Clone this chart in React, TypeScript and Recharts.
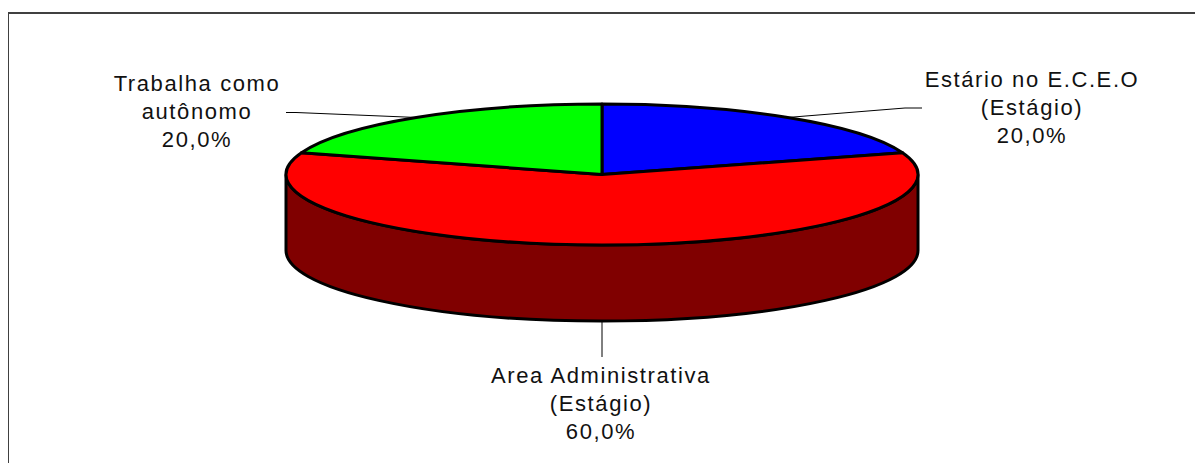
import { PieChart, Pie } from "recharts";

const CATEGORIES = ["Estário no E.C.E.O", "Area Administrativa", "Trabalha como autônomo"];
const VALUES = [20, 60, 20];
const TOP_COLORS = ["#0000ff", "#ff0000", "#00ff00"];
const SIDE_COLOR = "#800000";
const LABEL_LINES = [
  ["Estário no E.C.E.O", "(Estágio)", "20,0%"],
  ["Area Administrativa", "(Estágio)", "60,0%"],
  ["Trabalha como", "autônomo", "20,0%"],
];

const data = CATEGORIES.map((name, i) => ({
  name,
  value: VALUES[i],
  fill: TOP_COLORS[i],
}));

// fake 3d: the pie is squashed to an ellipse and gets a wall below it
const CX = 602;
const CY = 174.5;
const RX = 316;
const RY = 70.5;
const DEPTH = 76;
const OUTLINE = 3;

const LINE_HEIGHT = 28;
const labelPos = [
  { x: 1032, y: 87, leader: [[922, 108], [905, 108]] },
  { x: 601, y: 383, leader: [[602, 357]] },
  { x: 197, y: 91, leader: [[286, 112.5], [296, 112.5]] },
];

const pt = (a: number, dy = 0) => {
  const rad = (a * Math.PI) / 180;
  return [CX + RX * Math.cos(rad), CY - RY * Math.sin(rad) + dy];
};

function Slice(props: any) {
  const { startAngle, endAngle, fill } = props;
  const [sx, sy] = pt(startAngle);
  const [ex, ey] = pt(endAngle);
  const large = startAngle - endAngle > 180 ? 1 : 0;

  // only the part of the rim facing the viewer has a wall
  const a0 = Math.min(startAngle, 0);
  const a1 = Math.max(endAngle, -180);
  let wall = null;
  if (a0 > a1) {
    const [x0, y0] = pt(a0);
    const [x1, y1] = pt(a1);
    wall = (
      <path
        d={`M${x0},${y0} A${RX},${RY} 0 0 1 ${x1},${y1} L${x1},${y1 + DEPTH} A${RX},${RY} 0 0 0 ${x0},${y0 + DEPTH} Z`}
        fill={SIDE_COLOR}
        stroke="#000"
        strokeWidth={OUTLINE}
      />
    );
  }

  return (
    <g>
      {wall}
      <path
        d={`M${CX},${CY} L${sx},${sy} A${RX},${RY} 0 ${large} 1 ${ex},${ey} Z`}
        fill={fill}
        stroke="#000"
        strokeWidth={OUTLINE}
        strokeLinejoin="round"
      />
    </g>
  );
}

function SliceLabel(props: any) {
  const { midAngle, index } = props;
  const pos = labelPos[index];
  const [mx, my] = pt(midAngle, Math.sin((midAngle * Math.PI) / 180) < -0.99 ? DEPTH : 0);
  const points = [...pos.leader, [mx, my]].map((p) => p.join(",")).join(" ");
  return (
    <g>
      <polyline points={points} fill="none" stroke="#000" strokeWidth={1} />
      <text
        x={pos.x}
        y={pos.y}
        textAnchor="middle"
        fontFamily="'Liberation Sans', Arial, sans-serif"
        fontSize={22}
        letterSpacing={1.6}
        fill="#111"
      >
        {LABEL_LINES[index].map((line, i) => (
          <tspan key={line} x={pos.x} y={pos.y + i * LINE_HEIGHT}>
            {line}
          </tspan>
        ))}
      </text>
    </g>
  );
}

export default function App() {
  return (
    <div style={{ position: "absolute", left: 0, top: 0, width: 1195, height: 463, overflow: "hidden", background: "#fff" }}>
      <div
        style={{
          position: "absolute",
          left: 8,
          top: 12,
          width: 1195,
          height: 460,
          borderTop: "2px solid #404040",
          borderLeft: "1px solid #404040",
        }}
      />
      <div style={{ position: "absolute", left: 0, top: 0 }}>
        <PieChart width={1195} height={463} margin={{ top: 0, right: 0, bottom: 0, left: 0 }}>
          <Pie
            data={data}
            dataKey="value"
            nameKey="name"
            cx={CX}
            cy={CY}
            innerRadius={0}
            outerRadius={RX}
            startAngle={90}
            endAngle={-270}
            shape={Slice}
            label={SliceLabel}
            labelLine={false}
            isAnimationActive={false}
          />
        </PieChart>
      </div>
    </div>
  );
}
